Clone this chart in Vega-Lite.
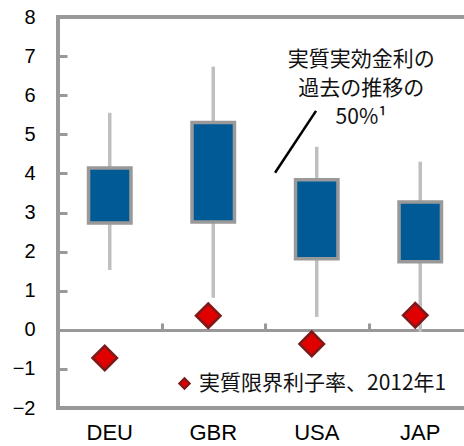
{
  "$schema": "https://vega.github.io/schema/vega-lite/v6.json",
  "width": 414,
  "height": 391,
  "autosize": {"type": "none"},
  "padding": {"left": 58, "top": 17, "right": 0, "bottom": 38},
  "config": {
    "view": {"stroke": "#999999", "strokeWidth": 4},
    "font": "Liberation Sans",
    "axis": {"labelColor": "#000000", "labelFont": "Liberation Sans"}
  },
  "datasets": {
    "box": [
      {"country": "DEU", "low": 1.53, "q1": 2.73, "q3": 4.14, "high": 5.55, "real": -0.72, "series": "実質限界利子率、2012年1"},
      {"country": "GBR", "low": 0.82, "q1": 2.76, "q3": 5.3, "high": 6.73, "real": 0.36, "series": "実質限界利子率、2012年1"},
      {"country": "USA", "low": 0.33, "q1": 1.82, "q3": 3.84, "high": 4.68, "real": -0.36, "series": "実質限界利子率、2012年1"},
      {"country": "JAP", "low": -0.05, "q1": 1.74, "q3": 3.27, "high": 4.3, "real": 0.37, "series": "実質限界利子率、2012年1"}
    ],
    "note": [
      {"x": 2.097, "x2": 2.493, "y": 4.015, "y2": 5.6, "tx": 2.93, "ty": 7.19, "label": "実質実効金利の\n過去の推移の\n50%¹"}
    ]
  },
  "layer": [
    {
      "data": {"name": "box"},
      "mark": {"type": "rule", "stroke": "#bfbfbf", "strokeWidth": 3.5},
      "encoding": {
        "x": {
          "field": "country", "type": "nominal",
          "scale": {"type": "band", "domain": ["DEU", "GBR", "USA", "JAP"], "paddingInner": 0, "paddingOuter": 0},
          "axis": {"orient": "bottom", "title": null, "domain": false, "ticks": false, "labelFontSize": 22, "labelPadding": 14, "labelAngle": 0}
        },
        "y": {"field": "low", "type": "quantitative",
          "scale": {"domain": [-2, 8], "nice": false, "zero": false},
          "axis": {"orient": "left", "title": null, "domain": false, "values": [-2, -1, 0, 1, 2, 3, 4, 5, 6, 7, 8], "labelOverlap": false, "grid": false, "ticks": false, "labelFontSize": 20, "labelPadding": 23}},
        "y2": {"field": "high"}
      }
    },
    {
      "data": {"name": "box"},
      "mark": {"type": "bar", "fill": "#005a96", "stroke": "#999999", "strokeWidth": 3.5, "width": {"band": 0.41}},
      "encoding": {
        "x": {
          "field": "country", "type": "nominal",
          "scale": {"type": "band", "domain": ["DEU", "GBR", "USA", "JAP"], "paddingInner": 0, "paddingOuter": 0},
          "axis": null
        },
        "y": {"field": "q1", "type": "quantitative",
          "scale": {"domain": [-2, 8], "nice": false, "zero": false},
          "axis": {"orient": "right", "offset": -414, "title": null, "domain": false, "labels": false, "grid": false, "values": [-2, -1, 0, 1, 2, 3, 4, 5, 6, 7, 8], "ticks": true, "tickSize": 9, "tickWidth": 3, "tickColor": "#999999", "zindex": 1}},
        "y2": {"field": "q3"}
      }
    },
    {
      "data": {"name": "box"},
      "mark": {"type": "point", "shape": "diamond", "filled": true, "size": 600, "stroke": "#7b1a1a", "strokeWidth": 2.5, "opacity": 1, "xOffset": -5},
      "encoding": {
        "x": {
          "field": "country", "type": "nominal",
          "scale": {"type": "band", "domain": ["DEU", "GBR", "USA", "JAP"], "paddingInner": 0, "paddingOuter": 0},
          "axis": {"orient": "top", "offset": -313, "title": null, "labels": false, "domain": true, "domainColor": "#999999", "domainWidth": 3, "ticks": true, "tickBand": "extent", "tickSize": 7, "tickWidth": 3, "tickColor": "#999999", "zindex": 0}
        },
        "y": {"field": "real", "type": "quantitative", "scale": {"domain": [-2, 8], "nice": false, "zero": false}, "axis": null},
        "fill": {
          "field": "series", "type": "nominal",
          "scale": {"range": ["#e00000"]},
          "legend": {
            "title": null, "orient": "none", "legendX": 116, "legendY": 356,
            "symbolType": "diamond", "symbolSize": 110, "symbolStrokeColor": "#7b1a1a", "symbolStrokeWidth": 2,
            "labelFont": "Noto Sans CJK JP", "labelFontSize": 21, "labelColor": "#111111", "labelLimit": 400
          }
        }
      }
    },
    {
      "data": {"name": "note"},
      "mark": {"type": "rule", "stroke": "#000000", "strokeWidth": 2.5},
      "encoding": {
        "x": {"field": "x", "type": "quantitative", "scale": {"domain": [0, 4], "nice": false, "zero": false}, "axis": null},
        "x2": {"field": "x2"},
        "y": {"field": "y", "type": "quantitative", "scale": {"domain": [-2, 8], "nice": false, "zero": false}, "axis": null},
        "y2": {"field": "y2"}
      }
    },
    {
      "data": {"name": "note"},
      "mark": {"type": "text", "align": "center", "baseline": "top", "lineBreak": "\n", "lineHeight": 29, "font": "Noto Sans CJK JP", "fontSize": 21, "color": "#111111"},
      "encoding": {
        "x": {"field": "tx", "type": "quantitative", "scale": {"domain": [0, 4], "nice": false, "zero": false}, "axis": null},
        "y": {"field": "ty", "type": "quantitative", "scale": {"domain": [-2, 8], "nice": false, "zero": false}, "axis": null},
        "text": {"field": "label"}
      }
    }
  ],
  "resolve": {"scale": {"x": "independent"}, "axis": {"x": "independent", "y": "independent"}}
}
